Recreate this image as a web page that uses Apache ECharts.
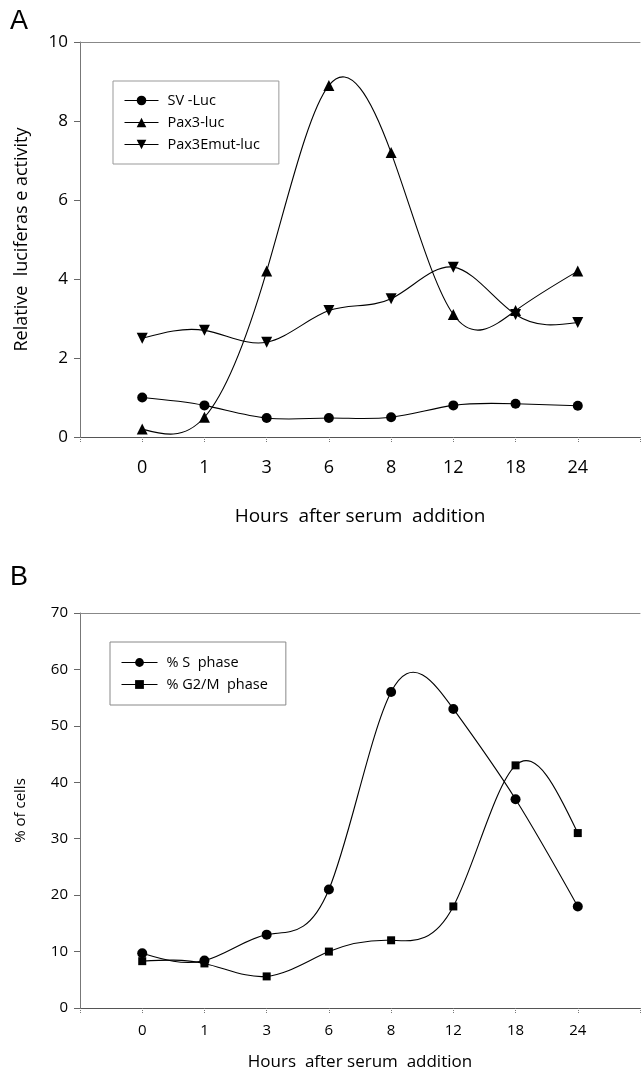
<!DOCTYPE html>
<html>
<head>
<meta charset="utf-8">
<title>Luciferase activity and cell cycle after serum addition</title>
<script src="https://cdn.jsdelivr.net/npm/echarts@6/dist/echarts.min.js"></script>
<style>
  html, body { margin: 0; padding: 0; background: #fff; }
  #chart { width: 643px; height: 1075px; }
</style>
</head>
<body>
<div id="chart"></div>
<script>
// time points (hours after serum addition)
var hours = ['0', '1', '3', '6', '8', '12', '18', '24'];

// panel A - relative luciferase activity
var svLuc = [1.0, 0.8, 0.48, 0.48, 0.5, 0.8, 0.84, 0.79];
var pax3Luc = [0.2, 0.5, 4.2, 8.9, 7.2, 3.1, 3.2, 4.2];
var pax3EmutLuc = [2.5, 2.7, 2.4, 3.2, 3.5, 4.3, 3.1, 2.9];

// panel B - % of cells
var sPhase = [9.7, 8.4, 13, 21, 56, 53, 37, 18];
var g2mPhase = [8.3, 7.9, 5.6, 10, 12, 18, 43, 31];

// put each value on its time-point index
function toPts(arr) {
  return arr.map(function (v, i) { return [i, v]; });
}

var font = 'Open Sans';
var downTriangle = 'path://M0,0 L10,0 L5,9 Z';

// natural cubic spline through pixel points -> svg path (like the sigmaplot curves)
function splinePath(pts) {
  var n = pts.length, i;
  var h = [];
  for (i = 0; i < n - 1; i++) h.push(pts[i + 1][0] - pts[i][0]);
  var M = new Array(n).fill(0);
  var m = n - 2;
  if (m > 0) {
    var cp = [], dp = [];
    for (i = 1; i <= m; i++) {
      var a = h[i - 1], b = 2 * (h[i - 1] + h[i]), c = h[i];
      var d = 6 * ((pts[i + 1][1] - pts[i][1]) / h[i] - (pts[i][1] - pts[i - 1][1]) / h[i - 1]);
      if (i === 1) {
        cp.push(c / b); dp.push(d / b);
      } else {
        var den = b - a * cp[i - 2];
        cp.push(c / den); dp.push((d - a * dp[i - 2]) / den);
      }
    }
    M[m] = dp[m - 1];
    for (i = m - 1; i >= 1; i--) M[i] = dp[i - 1] - cp[i - 1] * M[i + 1];
  }
  var s = 'M' + pts[0][0] + ' ' + pts[0][1];
  for (i = 0; i < n - 1; i++) {
    var x0 = pts[i][0], y0 = pts[i][1], x1 = pts[i + 1][0], y1 = pts[i + 1][1], hh = h[i];
    var sl = (y1 - y0) / hh;
    var d0 = sl - hh * (2 * M[i] + M[i + 1]) / 6;
    var d1 = sl + hh * (M[i] + 2 * M[i + 1]) / 6;
    s += ' C' + (x0 + hh / 3) + ' ' + (y0 + d0 * hh / 3) + ' ' +
         (x1 - hh / 3) + ' ' + (y1 - d1 * hh / 3) + ' ' + x1 + ' ' + y1;
  }
  return s;
}

function curveSeries(arr, axis) {
  return {
    type: 'custom',
    xAxisIndex: axis,
    yAxisIndex: axis,
    silent: true,
    z: 1,
    data: [[0, 0]],
    renderItem: function (params, api) {
      var pts = arr.map(function (v, i) { return api.coord([i, v]); });
      return {
        type: 'path',
        shape: { pathData: splinePath(pts) },
        style: { fill: 'none', stroke: '#000', lineWidth: 1.1 }
      };
    }
  };
}

function markSeries(name, arr, axis, symbol, size) {
  return {
    name: name,
    type: 'line',
    xAxisIndex: axis,
    yAxisIndex: axis,
    data: toPts(arr),
    symbol: symbol,
    symbolSize: size,
    showAllSymbol: true,
    z: 3,
    lineStyle: { color: '#000', width: 1, opacity: 0 },
    itemStyle: { color: '#000' },
    emphasis: { disabled: true }
  };
}

function xAxisFor(gridIndex, labelSize, margin, nameSize, nameGap) {
  return {
    gridIndex: gridIndex,
    type: 'value',
    min: -1,
    max: 8,
    interval: 1,
    splitLine: { show: false },
    axisLine: { onZero: false, lineStyle: { color: '#555', width: 1 } },
    axisTick: { show: true, length: 5, lineStyle: { color: '#777', type: 'dotted' } },
    axisLabel: {
      margin: margin,
      color: '#000',
      fontFamily: font,
      fontSize: labelSize,
      formatter: function (v) { return hours[v] !== undefined ? hours[v] : ''; }
    },
    name: 'Hours  after serum  addition',
    nameLocation: 'middle',
    nameGap: nameGap,
    nameTextStyle: { color: '#000', fontFamily: font, fontSize: nameSize }
  };
}

// top frame line of each panel
function topAxisFor(gridIndex) {
  return {
    gridIndex: gridIndex,
    type: 'value',
    position: 'top',
    min: -1,
    max: 8,
    splitLine: { show: false },
    axisLine: { onZero: false, lineStyle: { color: '#888', width: 1 } },
    axisTick: { show: false },
    axisLabel: { show: false }
  };
}

function yAxisFor(gridIndex, max, interval, labelSize, name, nameSize, nameGap) {
  return {
    gridIndex: gridIndex,
    type: 'value',
    min: 0,
    max: max,
    interval: interval,
    splitLine: { show: false },
    axisLine: { show: true, onZero: false, lineStyle: { color: '#777', width: 1 } },
    axisTick: { show: true, length: 6, lineStyle: { color: '#666' } },
    axisLabel: { margin: 12, color: '#000', fontFamily: font, fontSize: labelSize },
    name: name,
    nameLocation: 'middle',
    nameGap: nameGap,
    nameTextStyle: { color: '#000', fontFamily: font, fontSize: nameSize }
  };
}

var legendLine = { color: '#000', width: 1, opacity: 1 };

var myChart = echarts.init(document.getElementById('chart'), null, { renderer: 'canvas' });

var option = {
  animation: false,
  backgroundColor: '#fff',
  title: [
    { text: 'A', left: 5, top: 3, textStyle: { fontFamily: 'Liberation Sans', fontSize: 27, fontWeight: 'normal', color: '#000' } },
    { text: 'B', left: 5, top: 559, textStyle: { fontFamily: 'Liberation Sans', fontSize: 27, fontWeight: 'normal', color: '#000' } }
  ],
  grid: [
    { left: 80, top: 42, width: 566, height: 395 },
    { left: 80, top: 613, width: 566, height: 395 }
  ],
  legend: [
    {
      data: ['SV -Luc', 'Pax3-luc', 'Pax3Emut-luc'],
      orient: 'vertical',
      left: 113,
      top: 81,
      padding: [12, 19, 12, 11],
      itemGap: 7,
      itemWidth: 34,
      itemHeight: 12,
      borderColor: '#999',
      borderWidth: 1,
      lineStyle: legendLine,
      textStyle: { color: '#000', fontFamily: font, fontSize: 14.5, padding: [0, 0, 0, 4] }
    },
    {
      data: ['% S  phase', '% G2/M  phase'],
      orient: 'vertical',
      left: 110,
      top: 642,
      padding: [13, 18, 13, 11],
      itemGap: 7,
      itemWidth: 36,
      itemHeight: 11,
      borderColor: '#888',
      borderWidth: 1,
      lineStyle: legendLine,
      textStyle: { color: '#000', fontFamily: font, fontSize: 14.5, padding: [0, 0, 0, 4] }
    }
  ],
  xAxis: [
    xAxisFor(0, 18, 22, 19, 70),
    xAxisFor(1, 15, 15, 17, 46),
    topAxisFor(0),
    topAxisFor(1)
  ],
  yAxis: [
    yAxisFor(0, 10, 2, 17, 'Relative  luciferas e activity', 18, 49),
    yAxisFor(1, 70, 10, 15, '% of cells', 15, 52)
  ],
  series: [
    curveSeries(svLuc, 0),
    curveSeries(pax3Luc, 0),
    curveSeries(pax3EmutLuc, 0),
    curveSeries(sPhase, 1),
    curveSeries(g2mPhase, 1),
    markSeries('SV -Luc', svLuc, 0, 'circle', 10),
    markSeries('Pax3-luc', pax3Luc, 0, 'triangle', 11),
    markSeries('Pax3Emut-luc', pax3EmutLuc, 0, downTriangle, 11),
    markSeries('% S  phase', sPhase, 1, 'circle', 10),
    markSeries('% G2/M  phase', g2mPhase, 1, 'rect', 8)
  ]
};

myChart.setOption(option);
</script>
</body>
</html>
